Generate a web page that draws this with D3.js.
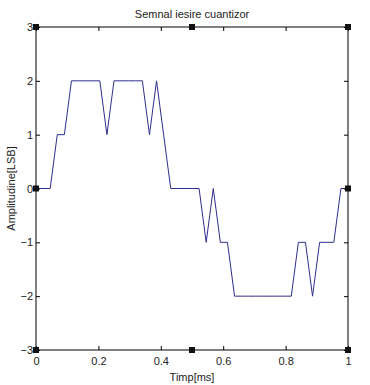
<!DOCTYPE html>
<html>
<head>
<meta charset="utf-8">
<script src="https://cdn.jsdelivr.net/npm/d3@7"></script>
<style>
  body { margin: 0; background: #fff; }
  text { font-family: "Liberation Sans", Arial, sans-serif; }
</style>
</head>
<body>
<div id="chart"></div>
<script>
// quantizer output, one sample every 1/44 ms
let nrSamples = 45;
let esantioane = [0, 0, 0, 1, 1, 2, 2, 2, 2, 2, 1, 2, 2, 2, 2, 2, 1, 2, 1, 0,
    0, 0, 0, 0, -1, 0, -1, -1, -2, -2, -2, -2, -2, -2, -2, -2, -2, -1, -1, -2,
    -1, -1, -1, 0, 0];
let xTicks = [0, 0.2, 0.4, 0.6, 0.8, 1];
let yTicks = [-3, -2, -1, 0, 1, 2, 3];

let margin = { top: 27, right: 22, bottom: 35, left: 36 };
let width = 370 - margin.left - margin.right,
    height = 385 - margin.top - margin.bottom;

let svg = d3.select("#chart")
    .append("svg")
    .attr("width", 370)
    .attr("height", 385);

let g = svg.append("g")
    .attr("transform", "translate(" + margin.left + "," + margin.top + ")");

let x = d3.scaleLinear().domain([0, 1]).range([0, width]);
let y = d3.scaleLinear().domain([-3, 3]).range([height, 0]);

let data = esantioane.map((v, i) => ({ t: i / (nrSamples - 1), v: v }));

g.append("path")
    .datum(data)
    .attr("fill", "none")
    .attr("stroke", "#2e2e8e")
    .attr("stroke-width", 1)
    .attr("d", d3.line().x(d => x(d.t)).y(d => y(d.v)));

// box + inward ticks on all sides
g.append("rect")
    .attr("width", width).attr("height", height)
    .attr("fill", "none").attr("stroke", "#000");

let axBottom = g.append("g")
    .attr("transform", "translate(0," + height + ")")
    .call(d3.axisBottom(x).tickValues(xTicks).tickSizeInner(-4).tickSizeOuter(0).tickPadding(7)
        .tickFormat(d => d === 0 || d === 1 ? d : d3.format(".1f")(d)));
let axTop = g.append("g")
    .call(d3.axisTop(x).tickValues(xTicks).tickSizeInner(-4).tickSizeOuter(0).tickFormat(""));
let axLeft = g.append("g")
    .call(d3.axisLeft(y).tickValues(yTicks).tickSizeInner(-4).tickSizeOuter(0).tickPadding(3)
        .tickFormat(d3.format("d")));
let axRight = g.append("g")
    .attr("transform", "translate(" + width + ",0)")
    .call(d3.axisRight(y).tickValues(yTicks).tickSizeInner(-4).tickSizeOuter(0).tickFormat(""));

[axBottom, axTop, axLeft, axRight].forEach(a => {
    a.select(".domain").remove();
    a.selectAll("text").attr("font-size", 11).attr("font-family", "Liberation Sans, Arial, sans-serif").attr("fill", "#222");
});

// selection handles
let handles = [[0, 3], [0.5, 3], [1, 3], [0, 0], [1, 0], [0, -3], [0.5, -3], [1, -3]];
g.selectAll(".handle")
    .data(handles)
    .enter()
    .append("rect")
    .attr("x", d => x(d[0]) - 3)
    .attr("y", d => y(d[1]) - 3)
    .attr("width", 6)
    .attr("height", 6)
    .attr("fill", "#111");

svg.append("text")
    .attr("x", margin.left + width / 2).attr("y", 18)
    .attr("text-anchor", "middle").attr("font-size", 11).attr("fill", "#222")
    .text("Semnal iesire cuantizor");

svg.append("text")
    .attr("x", margin.left + width / 2).attr("y", 381)
    .attr("text-anchor", "middle").attr("font-size", 11).attr("fill", "#222")
    .text("Timp[ms]");

svg.append("text")
    .attr("transform", "translate(15," + (margin.top + height / 2) + ") rotate(-90)")
    .attr("text-anchor", "middle").attr("font-size", 11).attr("fill", "#222")
    .text("Amplitudine[LSB]");
</script>
</body>
</html>
